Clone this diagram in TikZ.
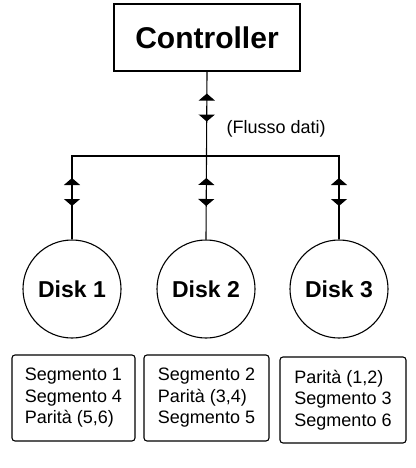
\documentclass[tikz,border=0pt]{standalone}
\usepackage{fontspec}
\setmainfont{Liberation Sans}
\usetikzlibrary{arrows.meta,decorations.markings}

\tikzset{
    flow/.style={
        postaction={decorate},
        decoration={markings,
            mark=at position 22pt with {\arrowreversed{Triangle[width=16pt,length=7pt]}},
            mark=at position 50pt with {\arrow{Triangle[width=16pt,length=7pt]}}}},
    disk/.style={draw, circle, line width=1.1pt, minimum size=98pt, inner sep=0pt,
        font=\fontsize{23}{27}\selectfont\bfseries},
    segbox/.style={draw, rounded corners=3pt, line width=1.1pt, minimum height=86pt,
        align=left, inner sep=0pt, font=\fontsize{18}{21.5}\selectfont},
}

\begin{document}
\begin{tikzpicture}[x=1pt, y=-1pt, line width=1.1pt]

        \useasboundingbox
            (0,0) rectangle (415,468);

        \node[draw, line width=1.1pt, minimum width=186pt, minimum height=67pt,
              font=\fontsize{30}{34}\selectfont\bfseries] (ctrl)
            at (207,37.5) {Controller};

        \node[disk] (disk1) at (72,289) {Disk 1};
        \node[disk] (disk2) at (206,289) {Disk 2};
        \node[disk] (disk3) at (339,289) {Disk 3};

        % bus
        \coordinate (bus1) at (72,156);
        \coordinate (bus2) at (206.5,156);
        \coordinate (bus3) at (339,156);

        \draw[line cap=rect]
            (bus1) -- (bus3);

        \draw[flow]
            (ctrl.south) -- (bus2);

        \draw[flow] (bus1) -- (disk1.north);
        \draw[flow] (bus2) -- (disk2.north);
        \draw[flow] (bus3) -- (disk3.north);

        \node[anchor=west, inner sep=0pt, font=\fontsize{18}{21}\selectfont] (flow)
            at (226,129) {(Flusso dati)};

        % contents of the disks
        \node[segbox, minimum width=123pt] (seg1) at (73.5,398)
            {Segmento 1\\Segmento 4\\Parità (5,6)};
        \node[segbox, minimum width=125pt] (seg2) at (206.5,398)
            {Segmento 2\\Parità (3,4)\\Segmento 5};
        \node[segbox, minimum width=126pt] (seg3) at (343,400)
            {Parità (1,2)\\Segmento 3\\Segmento 6};

\end{tikzpicture}
\end{document}
